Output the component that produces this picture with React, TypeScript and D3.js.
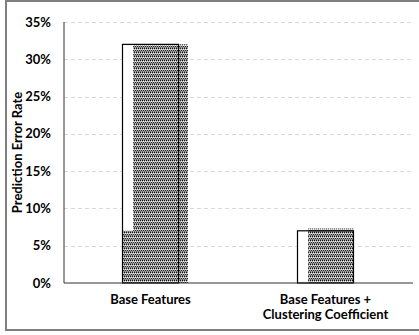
import React from "react";
import * as d3 from "d3";

// Prediction error rate by feature set
const categories = ["Base Features", "Base Features + Clustering Coefficient"];
const categoryLines = [["Base Features"], ["Base Features +", "Clustering Coefficient"]];
const outlineValues = [0.32, 0.07];
const patternValues = [0.32, 0.073];
const baseValues = [0.07, 0];
const yTicks = [0, 0.05, 0.1, 0.15, 0.2, 0.25, 0.3, 0.35];

const W = 419;
const H = 335;
const margin = { left: 64, right: 6, top: 22, bottom: 52 };
// horizontal extent of the patterned fill, as fractions of the bar width
const patternSpans: [number, number][] = [
  [0.19, 1.17],
  [0.19, 1.0],
];

const FONT = "Lato, 'Open Sans', sans-serif";
const FS = 13;

export default function App() {
  const x = d3
    .scaleBand<string>()
    .domain(categories)
    .range([margin.left - 1, W - margin.right])
    .paddingInner(0.68)
    .paddingOuter(0.34);
  const y = d3
    .scaleLinear()
    .domain([0, 0.35])
    .range([H - margin.bottom, margin.top]);
  const fmt = d3.format(".0%");
  const bw = x.bandwidth();
  const y0 = y(0);

  return (
    <svg
      width={W}
      height={H}
      style={{ position: "absolute", left: 0, top: 0, fontFamily: FONT }}
    >
      <defs>
        <pattern id="dots" width={4} height={4} patternUnits="userSpaceOnUse">
          <rect width={4} height={4} fill="#a8a8a8" />
          <rect x={0} y={0} width={1} height={1} fill="#111" />
          <rect x={2} y={0} width={1} height={1} fill="#111" />
          <rect x={1} y={1} width={1} height={1} fill="#f0f0f0" />
          <rect x={3} y={1} width={1} height={1} fill="#f0f0f0" />
          <rect x={1} y={2} width={1} height={1} fill="#222" />
          <rect x={3} y={2} width={1} height={1} fill="#222" />
          <rect x={0} y={3} width={1} height={1} fill="#666" />
          <rect x={2} y={3} width={1} height={1} fill="#666" />
        </pattern>
      </defs>
      <rect x={0} y={0} width={W} height={H} fill="#fff" />
      <rect
        x={6}
        y={1}
        width={W + 4}
        height={329}
        fill="none"
        stroke="#7f7f7f"
        strokeWidth={2}
      />

      {/* gridlines */}
      {yTicks
        .filter((t) => t > 0)
        .map((t) => (
          <line
            key={t}
            x1={margin.left}
            x2={W - margin.right}
            y1={Math.round(y(t)) + 0.5}
            y2={Math.round(y(t)) + 0.5}
            stroke="#d9d9d9"
            strokeDasharray="4,3"
          />
        ))}

      {/* bars */}
      {categories.map((c, i) => {
        const bx = x(c)!;
        const [s0, s1] = patternSpans[i];
        return (
          <g key={c}>
            <rect
              x={bx}
              y={y(outlineValues[i])}
              width={bw}
              height={y0 - y(outlineValues[i])}
              fill="#fff"
            />
            <rect
              x={bx + s0 * bw}
              y={y(patternValues[i])}
              width={(s1 - s0) * bw}
              height={y0 - y(patternValues[i])}
              fill="url(#dots)"
            />
            {baseValues[i] > 0 && (
              <rect
                x={bx}
                y={y(baseValues[i])}
                width={s0 * bw}
                height={y0 - y(baseValues[i])}
                fill="url(#dots)"
              />
            )}
            <rect
              x={bx}
              y={y(outlineValues[i])}
              width={bw}
              height={y0 - y(outlineValues[i])}
              fill="none"
              stroke="#000"
              strokeWidth={1.2}
            />
          </g>
        );
      })}

      {/* axes */}
      <line
        x1={margin.left}
        x2={margin.left}
        y1={y(0.35)}
        y2={y0}
        stroke="#333"
        strokeWidth={1}
      />
      <line
        x1={margin.left}
        x2={W - margin.right}
        y1={y0}
        y2={y0}
        stroke="#333"
        strokeWidth={1}
      />

      {yTicks.map((t) => (
        <text
          key={t}
          x={51}
          y={y(t)}
          dy="0.35em"
          textAnchor="end"
          fontSize={FS}
          fontWeight="bold"
          fill="#000"
        >
          {fmt(t)}
        </text>
      ))}

      {categories.map((c, i) => (
        <text
          key={c}
          x={x(c)! + bw / 2}
          textAnchor="middle"
          fontSize={FS}
          fontWeight="bold"
          fill="#000"
        >
          {categoryLines[i].map((line, j) => (
            <tspan key={j} x={x(c)! + bw / 2} y={304 + j * 15}>
              {line}
            </tspan>
          ))}
        </text>
      ))}

      <text
        transform={`translate(22,${(y(0.35) + y0) / 2}) rotate(-90)`}
        textAnchor="middle"
        fontSize={FS}
        fontWeight="bold"
        fill="#000"
      >
        Prediction Error Rate
      </text>
    </svg>
  );
}
